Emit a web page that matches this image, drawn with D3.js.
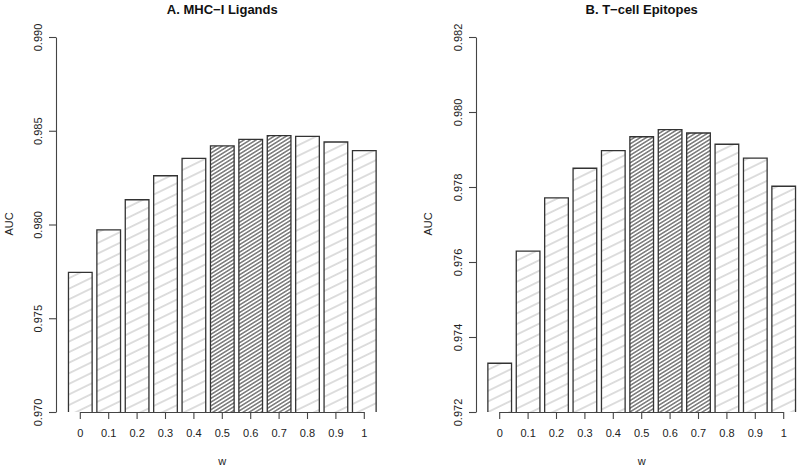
<!DOCTYPE html>
<html><head><meta charset="utf-8">
<script src="https://cdn.jsdelivr.net/npm/d3@7"></script>
<style>body{margin:0;background:#fff}svg{display:block}text{font-family:"Liberation Sans",Arial,sans-serif}</style>
</head><body>
<script>
const categories = ["0","0.1","0.2","0.3","0.4","0.5","0.6","0.7","0.8","0.9","1"];
const valuesA = [0.97745,0.97971,0.98132,0.98260,0.98353,0.98419,0.98454,0.98474,0.98470,0.98440,0.98394];
const valuesB = [0.97330,0.97629,0.97771,0.97850,0.97897,0.97934,0.97953,0.97944,0.97914,0.97877,0.97802];
const highlighted = ["0.5","0.6","0.7"];
const ticksA = [0.970,0.975,0.980,0.985,0.990];
const ticksB = [0.972,0.974,0.976,0.978,0.980,0.982];
const titleA = "A. MHC\u2212I Ligands";
const titleB = "B. T\u2212cell Epitopes";

const W = 800, H = 469;
const svg = d3.select("body").append("svg").attr("width", W).attr("height", H);
const defs = svg.append("defs");
function hatch(id, gap, angle, color, sw){
  const p = defs.append("pattern").attr("id", id).attr("patternUnits","userSpaceOnUse")
    .attr("width", 20).attr("height", gap).attr("patternTransform", `rotate(${-angle})`);
  p.append("line").attr("x1",-5).attr("x2",25).attr("y1",gap/2).attr("y2",gap/2)
    .attr("stroke", color).attr("stroke-width", sw);
}
hatch("light", 9.5, 26, "#bdbdbd", 1);
hatch("dark", 3.2, 32, "#1a1a1a", 0.9);

function panel(cfg){
  const g = svg.append("g");
  const y = d3.scaleLinear().domain(cfg.domain).range([412, 37]);
  const x = d3.scaleBand().domain(categories).range(cfg.xr).paddingInner(0.2/1.2).paddingOuter(0.1/1.2);
  g.selectAll("rect.bar").data(cfg.values).enter().append("rect")
    .attr("class","bar")
    .attr("x",(d,i)=>x(categories[i]))
    .attr("width", x.bandwidth())
    .attr("y", d=>y(d))
    .attr("height", d=>y(cfg.domain[0]) - y(d))
    .attr("fill",(d,i)=> highlighted.includes(categories[i]) ? "url(#dark)" : "url(#light)");
  g.selectAll("path.edge").data(cfg.values).enter().append("path")
    .attr("d",(d,i)=>{const x0=x(categories[i]), x1=x0+x.bandwidth(), yb=y(cfg.domain[0]), yt=y(d);
      return `M${x0},${yb}V${yt}H${x1}V${yb}`;})
    .attr("fill","none").attr("stroke","#333").attr("stroke-width",1.3);
  const ya = g.append("g").attr("transform",`translate(${cfg.yaxisX},0)`)
    .call(d3.axisLeft(y).tickValues(cfg.ticks).tickFormat(d3.format(".3f")).tickSize(7).tickSizeOuter(0));
  ya.select(".domain").attr("stroke","#444").attr("stroke-width",1.1);
  ya.selectAll(".tick line").attr("stroke","#444").attr("stroke-width",1.1);
  ya.selectAll(".tick text").attr("font-size",11).attr("fill","#222")
    .attr("transform","rotate(-90)").attr("text-anchor","middle")
    .attr("x",0).attr("y",-14).attr("dy","0");
  const xa = g.append("g").attr("transform","translate(0,412)")
    .call(d3.axisBottom(x).tickSize(7).tickSizeOuter(0));
  xa.select(".domain").attr("stroke","#444").attr("stroke-width",1.1)
    .attr("d",`M${x(categories[0])+x.bandwidth()/2},0.5H${x(categories[categories.length-1])+x.bandwidth()/2}`);
  xa.selectAll(".tick line").attr("stroke","#444").attr("stroke-width",1.1);
  xa.selectAll(".tick text").attr("font-size",11).attr("fill","#222").attr("y",21).attr("dy","0.32em");
  const cx = (cfg.xr[0]+cfg.xr[1])/2;
  g.append("text").attr("x",cx).attr("y",14).attr("text-anchor","middle")
    .attr("font-size",13).attr("font-weight","bold").attr("fill","#111").text(cfg.title);
  g.append("text").attr("x",cx).attr("y",465).attr("text-anchor","middle")
    .attr("font-size",11).attr("fill","#222").text("w");
  g.append("text").attr("transform",`translate(${cfg.aucX},224) rotate(-90)`).attr("text-anchor","middle")
    .attr("font-size",11).attr("fill","#222").text("AUC");
}
panel({domain:[0.970,0.990], values:valuesA, ticks:ticksA, xr:[66.1,378.5], yaxisX:56, aucX:13, title:titleA});
panel({domain:[0.972,0.982], values:valuesB, ticks:ticksB, xr:[485.5,797.9], yaxisX:476, aucX:432, title:titleB});
</script>
</body></html>
